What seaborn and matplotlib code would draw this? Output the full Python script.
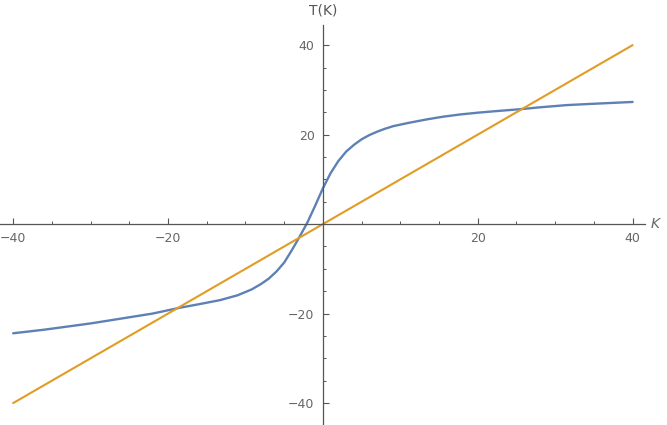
import numpy as np
import pandas as pd
import matplotlib
matplotlib.use("Agg")
import matplotlib.pyplot as plt
import seaborn as sns
from matplotlib.ticker import MultipleLocator

# blue curve T(K)
k_vals = [-40, -36, -33, -30, -26, -22, -18.5, -16, -13.3, -11, -9.2, -8, -7, -6,
          -5, -4, -3, -2, -1, 0, 1, 2, 3, 4, 5, 6, 7, 8, 9.1, 11, 13.4, 15.5,
          17.7, 20, 22, 25.6, 28, 31.5, 35, 40]
t_vals = [-24.4, -23.6, -22.9, -22.2, -21.1, -20.0, -18.7, -17.9, -17.0, -15.9, -14.6, -13.4, -12.2, -10.6,
          -8.6, -5.8, -2.8, 0.35, 4.1, 8.0, 11.4, 14.1, 16.2, 17.7, 18.95, 19.9, 20.65, 21.3, 21.9, 22.6, 23.4, 24.0,
          24.5, 24.9, 25.2, 25.7, 26.1, 26.6, 26.9, 27.3]

# orange line T = K
line_k = [-40, 0, 40]
line_t = [-40, 0, 40]

x_ticks = [-40, -20, 20, 40]
y_ticks = [-40, -20, 20, 40]

blue = '#5E81B5'
orange = '#E19C24'
axis_col = '#555555'
label_col = '#666666'

sns.set_style('white')
plt.rcParams['font.family'] = ['DejaVu Sans']

fig = plt.figure(figsize=(6.67, 4.25), dpi=100)
ax = fig.add_axes([0, 0, 645 / 667, 400 / 425])

curve = pd.DataFrame({'K': k_vals, 'T': t_vals})
ident = pd.DataFrame({'K': line_k, 'T': line_t})
sns.lineplot(data=curve, x='K', y='T', color=blue, linewidth=1.7, ax=ax, sort=False)
sns.lineplot(data=ident, x='K', y='T', color=orange, linewidth=1.5, ax=ax, sort=False)
for ln in ax.get_lines():
    ln.set_solid_joinstyle('round')

ax.set_xlim(-41.7, 41.6)
ax.set_ylim(-44.9, 44.5)

# axes cross at the origin, Mathematica style
for side in ['top', 'right']:
    ax.spines[side].set_visible(False)
ax.spines['left'].set_position(('data', 0))
ax.spines['bottom'].set_position(('data', 0))
for side in ['left', 'bottom']:
    ax.spines[side].set_color(axis_col)
    ax.spines[side].set_linewidth(0.9)

ax.set_xticks(x_ticks)
ax.set_yticks(y_ticks)
ax.set_xticklabels(['\u221240', '\u221220', '20', '40'])
ax.set_yticklabels(['\u221240', '\u221220', '20', '40'])
ax.xaxis.set_minor_locator(MultipleLocator(5))
ax.yaxis.set_minor_locator(MultipleLocator(5))
ax.tick_params(which='major', direction='in', length=4, width=0.8, color=axis_col,
               labelsize=9, labelcolor=label_col, pad=6)
ax.tick_params(which='minor', direction='in', length=2.5, width=0.7, color=axis_col)
ax.tick_params(axis='y', which='both', left=True)
ax.tick_params(axis='x', which='both', bottom=True)

ax.set_xlabel('')
ax.set_ylabel('')
fig.text(655 / 667, 1 - 224 / 425, 'K', fontsize=10, style='italic', color=label_col,
         ha='center', va='center')
fig.text(323 / 667, 1 - 10 / 425, 'T(K)', fontsize=10, color='#555555',
         ha='center', va='center')

fig.savefig('out.png', dpi=100)
